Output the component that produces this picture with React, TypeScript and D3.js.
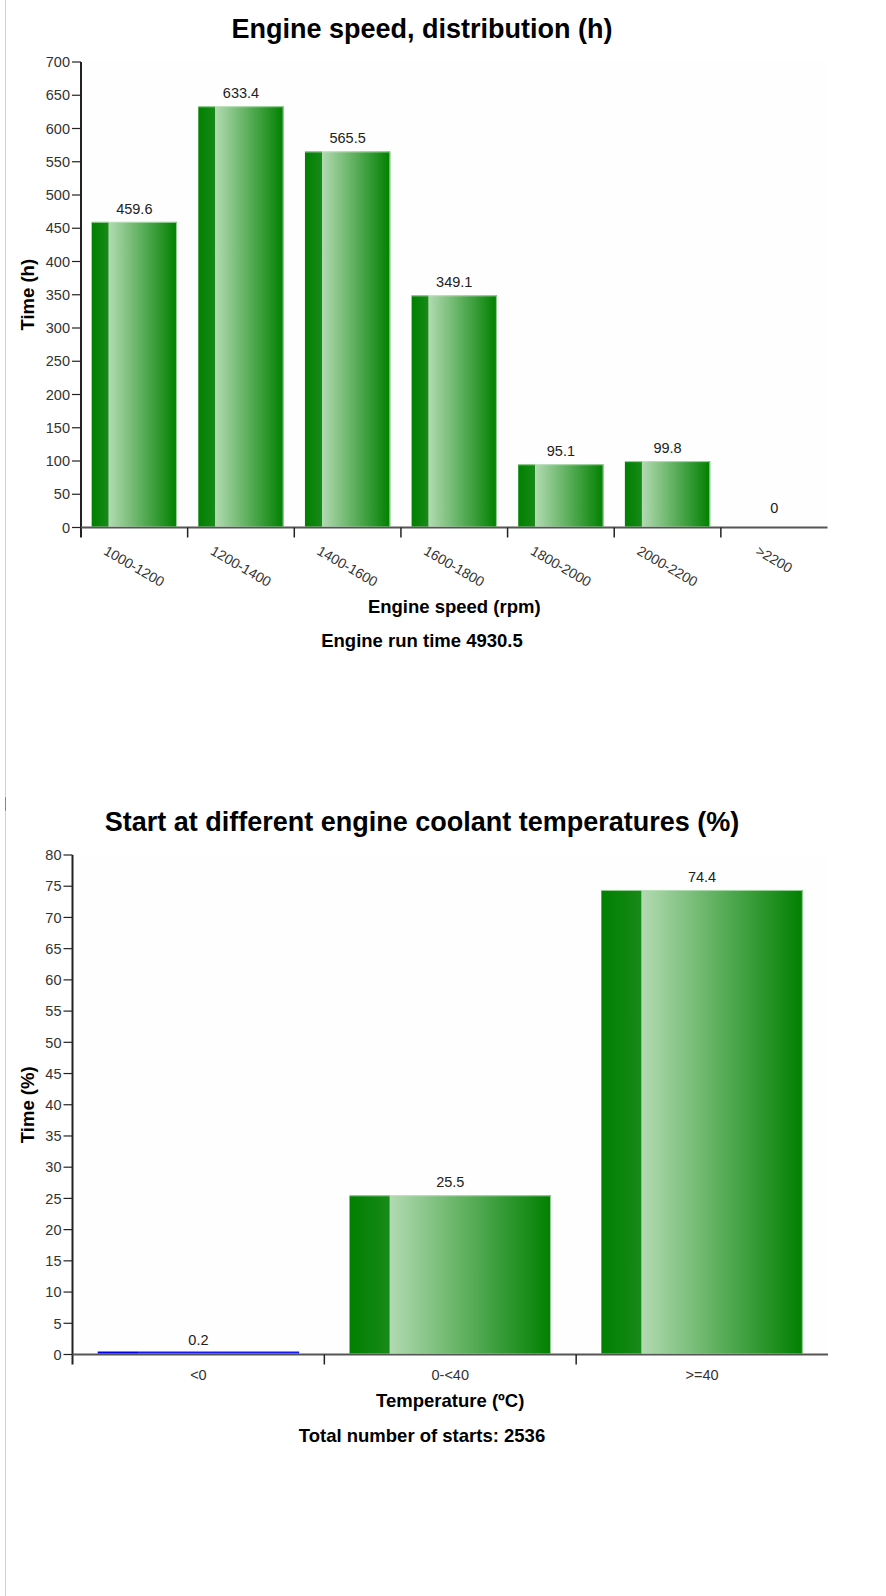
import React, { useEffect, useRef } from "react";
import * as d3 from "d3";

// ---------- data ----------
const speedCategories = ["1000-1200", "1200-1400", "1400-1600", "1600-1800", "1800-2000", "2000-2200", ">2200"];
const speedHours = [459.6, 633.4, 565.5, 349.1, 95.1, 99.8, 0];
const speedTicks = [0, 50, 100, 150, 200, 250, 300, 350, 400, 450, 500, 550, 600, 650, 700];

const tempCategories = ["<0", "0-<40", ">=40"];
const tempPercent = [0.2, 25.5, 74.4];
const tempTicks = [0, 5, 10, 15, 20, 25, 30, 35, 40, 45, 50, 55, 60, 65, 70, 75, 80];

const FONT = "Arial, 'Liberation Sans', sans-serif";

type Cfg = {
  title: string;
  titleY: number;
  categories: string[];
  values: number[];
  ticks: number[];
  x0: number;
  x1: number;
  yTop: number;
  yBottom: number;
  yTitle: string;
  xTitle: string;
  xTitleY: number;
  footer: string;
  footerY: number;
  rotate: boolean;
  labelTop: number;
};

function drawChart(svg: d3.Selection<SVGSVGElement, unknown, null, undefined>, c: Cfg) {
  const g = svg.append("g");
  const yMax = c.ticks[c.ticks.length - 1];
  const x = d3.scaleBand<string>().domain(c.categories).range([c.x0, c.x1]).paddingInner(0.2).paddingOuter(0.1);
  const y = d3.scaleLinear().domain([0, yMax]).range([c.yBottom, c.yTop]);

  // plot background (very faint)
  g.append("rect")
    .attr("x", c.x0).attr("y", c.yTop)
    .attr("width", c.x1 - c.x0).attr("height", c.yBottom - c.yTop)
    .attr("fill", "#fefefe");

  // title
  g.append("text")
    .attr("x", 422).attr("y", c.titleY)
    .attr("text-anchor", "middle")
    .attr("font-family", FONT).attr("font-size", 27).attr("font-weight", "bold")
    .attr("fill", "#000")
    .text(c.title);

  // y axis
  g.append("line")
    .attr("x1", c.x0).attr("x2", c.x0).attr("y1", c.yTop).attr("y2", c.yBottom + 10)
    .attr("stroke", "#222").attr("stroke-width", 2);
  c.ticks.forEach((t) => {
    const ty = y(t);
    g.append("line").attr("x1", c.x0 - 9).attr("x2", c.x0).attr("y1", ty).attr("y2", ty)
      .attr("stroke", "#222").attr("stroke-width", 1.2);
    g.append("text")
      .attr("x", c.x0 - 11).attr("y", ty).attr("dy", "0.36em")
      .attr("text-anchor", "end")
      .attr("font-family", FONT).attr("font-size", 14.5).attr("fill", "#333")
      .text(String(t));
  });

  // x axis
  g.append("line")
    .attr("x1", c.x0).attr("x2", c.x1).attr("y1", c.yBottom).attr("y2", c.yBottom)
    .attr("stroke", "#555").attr("stroke-width", 2);
  c.categories.forEach((cat, i) => {
    const step = x.step();
    const edge = c.x0 + i * step;
    if (i > 0) {
      g.append("line").attr("x1", edge).attr("x2", edge).attr("y1", c.yBottom).attr("y2", c.yBottom + 10)
        .attr("stroke", "#222").attr("stroke-width", 1.5);
    }
    const cx = x(cat)! + x.bandwidth() / 2;
    if (c.rotate) {
      const fs = 14;
      const t = g.append("text")
        .attr("text-anchor", "middle")
        .attr("dominant-baseline", "central")
        .attr("font-family", FONT).attr("font-size", fs).attr("fill", "#333")
        .text(cat);
      const w = (t.node() as SVGTextElement).getComputedTextLength();
      const a = (30 * Math.PI) / 180;
      const hh = fs * 0.72;
      const half = (w * Math.sin(a) + hh * Math.cos(a)) / 2;
      t.attr("transform", `translate(${cx},${c.labelTop + half}) rotate(30)`);
    } else {
      g.append("text")
        .attr("x", cx).attr("y", c.labelTop)
        .attr("text-anchor", "middle")
        .attr("font-family", FONT).attr("font-size", 14.5).attr("fill", "#333")
        .text(cat);
    }
  });

  // bars
  c.values.forEach((v, i) => {
    const cat = c.categories[i];
    const bx = x(cat)!;
    const bw = x.bandwidth();
    const top = y(v);
    const h = c.yBottom - top;
    const tiny = h > 0 && h < 2;
    const sw = bw * 0.2;
    if (tiny) {
      g.append("rect").attr("x", bx).attr("y", c.yBottom - 3).attr("width", sw).attr("height", 2)
        .attr("fill", "#0000ee");
      g.append("rect").attr("x", bx + sw).attr("y", c.yBottom - 3).attr("width", bw - sw).attr("height", 2)
        .attr("fill", "#1a1aff");
    } else if (h > 0) {
      g.append("rect").attr("x", bx).attr("y", top).attr("width", sw).attr("height", h - 1)
        .attr("fill", "url(#stripGrad)");
      g.append("rect").attr("x", bx + sw).attr("y", top).attr("width", bw - sw).attr("height", h - 1)
        .attr("fill", "url(#mainGrad)");
      g.append("path")
        .attr("d", `M${bx},${top + 0.5}H${bx + bw - 0.5}V${c.yBottom - 1}`)
        .attr("fill", "none").attr("stroke", "#bfe2bf").attr("stroke-width", 1).attr("stroke-opacity", 0.8);
    }
    // value label
    const ly = v === 0 ? c.yBottom - 14.5 : top - 8;
    g.append("text")
      .attr("x", bx + bw / 2).attr("y", ly)
      .attr("text-anchor", "middle")
      .attr("font-family", FONT).attr("font-size", 14.5).attr("fill", "#222")
      .text(String(v));
  });

  // axis titles
  g.append("text")
    .attr("transform", `translate(34,${(c.yTop + c.yBottom) / 2}) rotate(-90)`)
    .attr("text-anchor", "middle")
    .attr("font-family", FONT).attr("font-size", 18.5).attr("font-weight", "bold").attr("fill", "#000")
    .text(c.yTitle);
  g.append("text")
    .attr("x", (c.x0 + c.x1) / 2).attr("y", c.xTitleY)
    .attr("text-anchor", "middle")
    .attr("font-family", FONT).attr("font-size", 18.5).attr("font-weight", "bold").attr("fill", "#000")
    .text(c.xTitle);
  g.append("text")
    .attr("x", 422).attr("y", c.footerY)
    .attr("text-anchor", "middle")
    .attr("font-family", FONT).attr("font-size", 18.5).attr("font-weight", "bold").attr("fill", "#000")
    .text(c.footer);
}

export default function App() {
  const ref = useRef<SVGSVGElement | null>(null);

  useEffect(() => {
    const svg = d3.select(ref.current!);
    svg.selectAll("*").remove();

    const defs = svg.append("defs");
    const sg = defs.append("linearGradient").attr("id", "stripGrad").attr("x1", "0").attr("x2", "1").attr("y1", "0").attr("y2", "0");
    sg.append("stop").attr("offset", "0").attr("stop-color", "#008000");
    sg.append("stop").attr("offset", "1").attr("stop-color", "#188a18");
    const mg = defs.append("linearGradient").attr("id", "mainGrad").attr("x1", "0").attr("x2", "1").attr("y1", "0").attr("y2", "0");
    mg.append("stop").attr("offset", "0").attr("stop-color", "#b2dab2");
    mg.append("stop").attr("offset", "1").attr("stop-color", "#008000");

    // page left border
    svg.append("line").attr("x1", 5.5).attr("x2", 5.5).attr("y1", 0).attr("y2", 1596)
      .attr("stroke", "#d0d0d0").attr("stroke-width", 1);
    svg.append("line").attr("x1", 5.5).attr("x2", 5.5).attr("y1", 797).attr("y2", 811)
      .attr("stroke", "#888").attr("stroke-width", 1);

    drawChart(svg, {
      title: "Engine speed, distribution (h)",
      titleY: 38,
      categories: speedCategories,
      values: speedHours,
      ticks: speedTicks,
      x0: 81,
      x1: 827.5,
      yTop: 62,
      yBottom: 527.5,
      yTitle: "Time (h)",
      xTitle: "Engine speed (rpm)",
      xTitleY: 613,
      footer: "Engine run time 4930.5",
      footerY: 646.5,
      rotate: true,
      labelTop: 545,
    });

    drawChart(svg, {
      title: "Start at different engine coolant temperatures (%)",
      titleY: 831,
      categories: tempCategories,
      values: tempPercent,
      ticks: tempTicks,
      x0: 72.5,
      x1: 828,
      yTop: 855,
      yBottom: 1354.5,
      yTitle: "Time (%)",
      xTitle: "Temperature (ºC)",
      xTitleY: 1406.5,
      footer: "Total number of starts: 2536",
      footerY: 1441.5,
      rotate: false,
      labelTop: 1380,
    });
  }, []);

  return (
    <div style={{ position: "absolute", left: 0, top: 0 }}>
      <svg ref={ref} width={886} height={1596} style={{ display: "block", background: "#fff" }} />
    </div>
  );
}
